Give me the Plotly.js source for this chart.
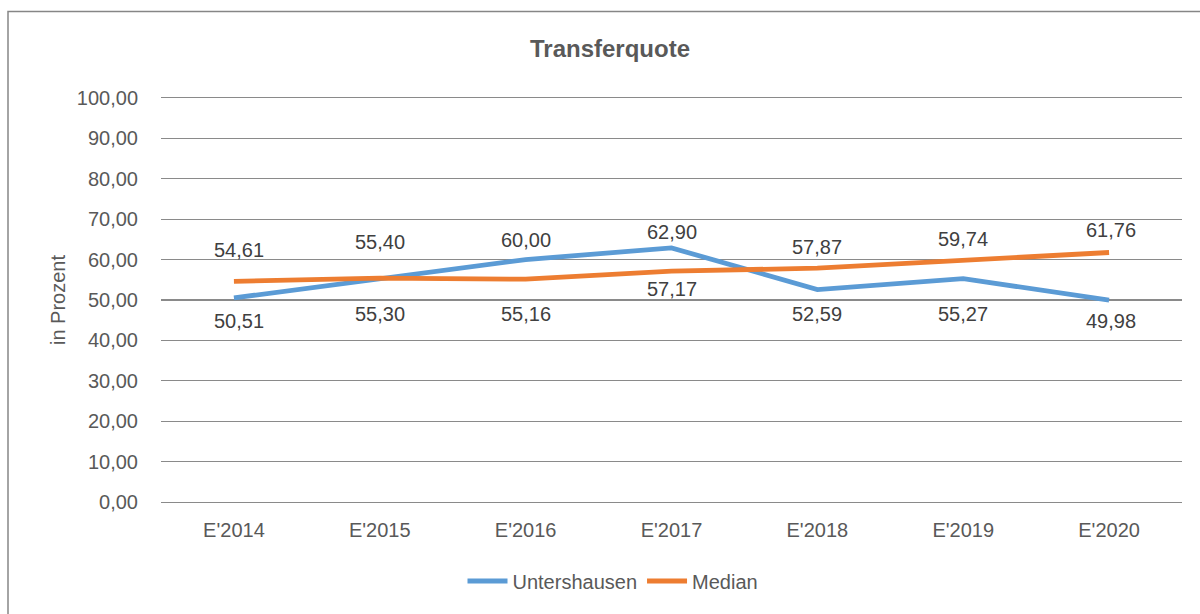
<!DOCTYPE html>
<html>
<head>
<meta charset="utf-8">
<script src="https://cdn.plot.ly/plotly-3.0.1.min.js"></script>
<style>
html,body{margin:0;padding:0;background:#fff;}
#chart{width:1200px;height:614px;}
</style>
</head>
<body>
<div id="chart"></div>
<script>
// ---- data ----
const categories = ["E'2014", "E'2015", "E'2016", "E'2017", "E'2018", "E'2019", "E'2020"];
const untershausen = [50.51, 55.30, 60.00, 62.90, 52.59, 55.27, 49.98];
const median = [54.61, 55.40, 55.16, 57.17, 57.87, 59.74, 61.76];
const seriesNames = ["Untershausen", "Median"];
const yTickVals = [0, 10, 20, 30, 40, 50, 60, 70, 80, 90, 100];

// ---- label placement (px offsets, layout only) ----
const blueLabelShift = [-23, -35, 20, 16, -24, -35, -21];
const orangeLabelShift = [31, 36, -35, -18, 21, 22, 22];
const labelXShift = [5, 0, 0, 0, 0, 0, 2];

const FONT = "'Liberation Sans', Arial, sans-serif";
const fmt = v => v.toFixed(2).replace('.', ',');

const traces = [
  {x: categories, y: untershausen, name: seriesNames[0], type: 'scatter', mode: 'lines',
   line: {color: '#5B9BD5', width: 4.8}, hoverinfo: 'x+y'},
  {x: categories, y: median, name: seriesNames[1], type: 'scatter', mode: 'lines',
   line: {color: '#ED7D31', width: 4.8}, hoverinfo: 'x+y'}
];

const annotations = [];
function addLabels(vals, shifts) {
  vals.forEach((v, i) => {
    annotations.push({x: categories[i], y: v, xref: 'x', yref: 'y', text: fmt(v),
      showarrow: false, yshift: shifts[i], xshift: labelXShift[i],
      font: {family: FONT, size: 20, color: '#404040'}});
  });
}
addLabels(untershausen, blueLabelShift);
addLabels(median, orangeLabelShift);

const layout = {
  width: 1200, height: 614,
  margin: {l: 161, r: 18, t: 98, b: 112},
  paper_bgcolor: '#fff', plot_bgcolor: '#fff',
  font: {family: FONT, size: 20, color: '#595959'},
  title: {text: '<b>Transferquote</b>', x: 610/1200, xref: 'container', xanchor: 'center',
          y: 1 - 49/614, yref: 'container', yanchor: 'middle',
          font: {family: FONT, size: 24, color: '#595959'}},
  xaxis: {type: 'category', range: [-0.5, 6.5],
          showgrid: false, zeroline: false,
          showline: true, mirror: true, linecolor: '#8a8a8a', linewidth: 1.3,
          ticks: '', ticklabelstandoff: 10, fixedrange: true,
          tickfont: {family: FONT, size: 20, color: '#595959'}},
  yaxis: {range: [0, 100], tickvals: yTickVals,
          ticktext: yTickVals.map(v => fmt(v)),
          showgrid: true, gridcolor: '#8a8a8a', gridwidth: 1.3,
          zeroline: false, showline: false, ticks: '', ticklabelstandoff: 22,
          tickfont: {family: FONT, size: 20, color: '#595959'},
          title: {text: 'in Prozent', standoff: 5, font: {family: FONT, size: 20, color: '#595959'}},
          fixedrange: true},
  showlegend: true,
  legend: {orientation: 'h', x: (613-161)/1021, xanchor: 'center', y: (502-581)/404, yanchor: 'middle',
           font: {family: FONT, size: 20, color: '#595959'}, itemwidth: 40, bgcolor: 'rgba(0,0,0,0)'},
  annotations: annotations,
  shapes: [{type: 'rect', xref: 'paper', yref: 'paper',
            x0: (8-161)/1021, x1: (1260-161)/1021, y0: (502-700)/404, y1: (502-11.5)/404,
            line: {color: '#868686', width: 1.5}, fillcolor: 'rgba(0,0,0,0)', layer: 'below'}]
};

Plotly.newPlot('chart', traces, layout, {displayModeBar: false, staticPlot: true});
</script>
</body>
</html>
